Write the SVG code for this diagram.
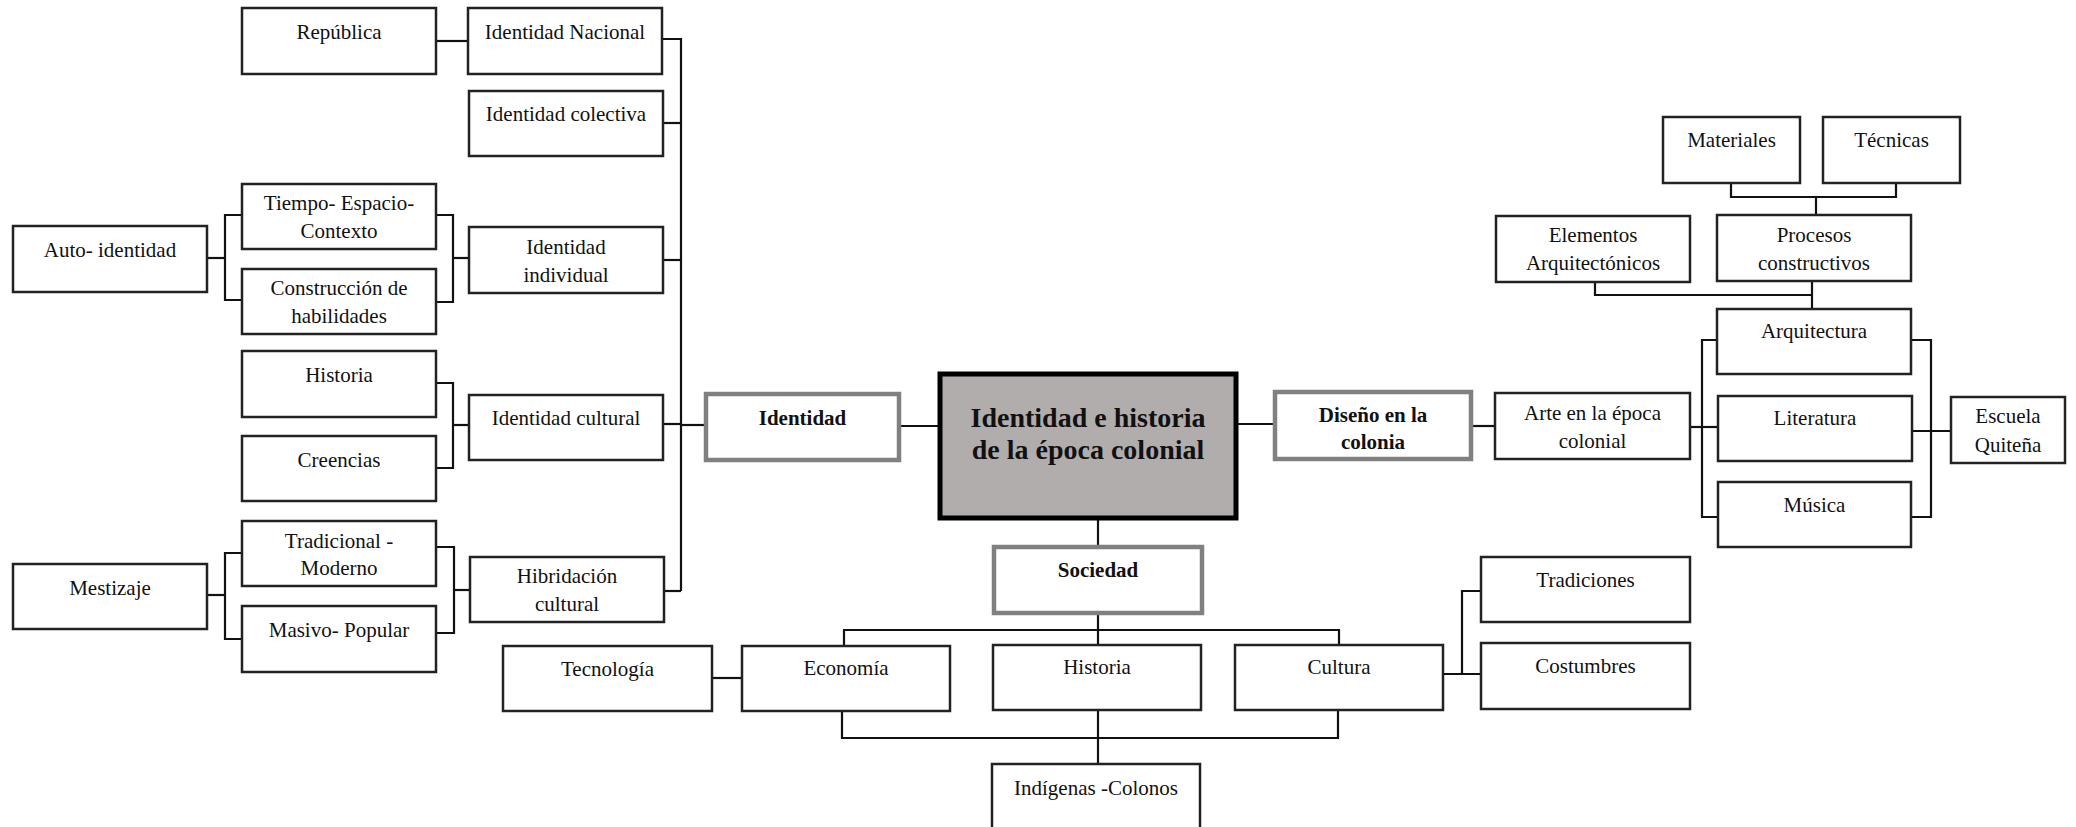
<svg xmlns="http://www.w3.org/2000/svg" width="2076" height="827" viewBox="0 0 2076 827">
  <style>
    .box { fill: #ffffff; stroke: #222222; stroke-width: 2.5; }
    .key { fill: #ffffff; stroke: #808080; stroke-width: 4.5; }
    .core { fill: #b2adad; stroke: #000000; stroke-width: 5; }
    .lbl { font-family: "Liberation Serif", "Times New Roman", serif; font-size: 21px; fill: #111111; text-anchor: middle; }
    .bold { font-weight: bold; }
    .big { font-family: "Liberation Serif", "Times New Roman", serif; font-size: 28px; font-weight: bold; fill: #111111; text-anchor: middle; }
    .wire { fill: none; stroke: #111111; stroke-width: 2.2; }
  </style>
  <rect width="2076" height="827" fill="#ffffff"/>

  <!-- connectors -->
  <g id="connectors" class="wire">
    <!-- left identity bus -->
    <path d="M436 41 H468"/>
    <path d="M662 39 H681 V591"/>
    <path d="M663 123 H681"/>
    <path d="M663 260 H681"/>
    <path d="M663 424 H681"/>
    <path d="M664 591 H681"/>
    <path d="M681 425 H706"/>
    <!-- auto-identidad bracket -->
    <path d="M207 258 H225"/>
    <path d="M242 215 H225 V300 H242"/>
    <path d="M436 215 H453 V302 H436"/>
    <path d="M453 258 H469"/>
    <!-- identidad cultural bracket -->
    <path d="M436 383 H453 V468 H436"/>
    <path d="M453 425 H469"/>
    <!-- mestizaje bracket -->
    <path d="M207 595 H225"/>
    <path d="M242 553 H225 V639 H242"/>
    <path d="M436 547 H454 V633 H436"/>
    <path d="M454 590 H470"/>
    <!-- central links -->
    <path d="M899 426 H940"/>
    <path d="M1236 424 H1275"/>
    <path d="M1471 426 H1495"/>
    <!-- sociedad tree -->
    <path d="M1098 518 V547"/>
    <path d="M1098 613 V646"/>
    <path d="M844 646 V630 H1339 V645"/>
    <path d="M842 711 V738 H1338 V710"/>
    <path d="M1098 710 V764"/>
    <path d="M712 678 H742"/>
    <path d="M1443 674 H1481"/>
    <path d="M1481 591 H1462 V674"/>
    <!-- arte tree -->
    <path d="M1690 427 H1718"/>
    <path d="M1717 340 H1702 V517 H1718"/>
    <path d="M1911 340 H1931 V517 H1911"/>
    <path d="M1912 431 H1951"/>
    <path d="M1812 281 V309"/>
    <path d="M1595 282 V295 H1812"/>
    <path d="M1731 183 V197 H1896 V183"/>
    <path d="M1816 197 V215"/>
  </g>

  <!-- left side: identity -->
  <g id="republica"><rect class="box" x="242" y="8" width="194" height="66"/><text class="lbl" x="339" y="39">República</text></g>
  <g id="identidad-nacional"><rect class="box" x="468" y="8" width="194" height="66"/><text class="lbl" x="565" y="39">Identidad Nacional</text></g>
  <g id="identidad-colectiva"><rect class="box" x="469" y="91" width="194" height="65"/><text class="lbl" x="566" y="121">Identidad colectiva</text></g>
  <g id="auto-identidad"><rect class="box" x="13" y="226" width="194" height="66"/><text class="lbl" x="110" y="257">Auto- identidad</text></g>
  <g id="tiempo-espacio"><rect class="box" x="242" y="184" width="194" height="65"/><text class="lbl" x="339" y="210">Tiempo- Espacio-</text><text class="lbl" x="339" y="238">Contexto</text></g>
  <g id="construccion"><rect class="box" x="242" y="269" width="194" height="65"/><text class="lbl" x="339" y="295">Construcción de</text><text class="lbl" x="339" y="323">habilidades</text></g>
  <g id="identidad-individual"><rect class="box" x="469" y="227" width="194" height="66"/><text class="lbl" x="566" y="254">Identidad</text><text class="lbl" x="566" y="282">individual</text></g>
  <g id="historia-cultural"><rect class="box" x="242" y="351" width="194" height="66"/><text class="lbl" x="339" y="382">Historia</text></g>
  <g id="creencias"><rect class="box" x="242" y="436" width="194" height="65"/><text class="lbl" x="339" y="467">Creencias</text></g>
  <g id="identidad-cultural"><rect class="box" x="469" y="395" width="194" height="65"/><text class="lbl" x="566" y="425">Identidad cultural</text></g>
  <g id="mestizaje"><rect class="box" x="13" y="564" width="194" height="65"/><text class="lbl" x="110" y="595">Mestizaje</text></g>
  <g id="tradicional-moderno"><rect class="box" x="242" y="521" width="194" height="65"/><text class="lbl" x="339" y="548">Tradicional -</text><text class="lbl" x="339" y="575">Moderno</text></g>
  <g id="masivo-popular"><rect class="box" x="242" y="606" width="194" height="66"/><text class="lbl" x="339" y="637">Masivo- Popular</text></g>
  <g id="hibridacion"><rect class="box" x="470" y="557" width="194" height="65"/><text class="lbl" x="567" y="583">Hibridación</text><text class="lbl" x="567" y="611">cultural</text></g>
  <g id="identidad"><rect class="key" x="706" y="394" width="193" height="66"/><text class="lbl bold" x="802.5" y="425">Identidad</text></g>

  <!-- centre -->
  <g id="tema-central"><rect class="core" x="940" y="374" width="296" height="144"/><text class="big" x="1088" y="427">Identidad e historia</text><text class="big" x="1088" y="459">de la época colonial</text></g>

  <!-- society -->
  <g id="sociedad"><rect class="key" x="994" y="547" width="208" height="66"/><text class="lbl bold" x="1098" y="577">Sociedad</text></g>
  <g id="tecnologia"><rect class="box" x="503" y="646" width="209" height="65"/><text class="lbl" x="607.5" y="676">Tecnología</text></g>
  <g id="economia"><rect class="box" x="742" y="646" width="208" height="65"/><text class="lbl" x="846" y="675">Economía</text></g>
  <g id="historia"><rect class="box" x="993" y="645" width="208" height="65"/><text class="lbl" x="1097" y="674">Historia</text></g>
  <g id="cultura"><rect class="box" x="1235" y="645" width="208" height="65"/><text class="lbl" x="1339" y="674">Cultura</text></g>
  <g id="tradiciones"><rect class="box" x="1481" y="557" width="209" height="65"/><text class="lbl" x="1585.5" y="587">Tradiciones</text></g>
  <g id="costumbres"><rect class="box" x="1481" y="643" width="209" height="66"/><text class="lbl" x="1585.5" y="673">Costumbres</text></g>
  <g id="indigenas-colonos"><rect class="box" x="992" y="764" width="208" height="72"/><text class="lbl" x="1096" y="795">Indígenas -Colonos</text></g>

  <!-- colonial design -->
  <g id="diseno-colonia"><rect class="key" x="1275" y="392" width="196" height="67"/><text class="lbl bold" x="1373" y="422">Diseño en la</text><text class="lbl bold" x="1373" y="449">colonia</text></g>
  <g id="arte-colonial"><rect class="box" x="1495" y="393" width="195" height="66"/><text class="lbl" x="1592.5" y="420">Arte en la época</text><text class="lbl" x="1592.5" y="448">colonial</text></g>
  <g id="arquitectura"><rect class="box" x="1717" y="309" width="194" height="65"/><text class="lbl" x="1814" y="338">Arquitectura</text></g>
  <g id="literatura"><rect class="box" x="1718" y="396" width="194" height="65"/><text class="lbl" x="1815" y="425">Literatura</text></g>
  <g id="musica"><rect class="box" x="1718" y="482" width="193" height="65"/><text class="lbl" x="1814.5" y="512">Música</text></g>
  <g id="escuela-quitena"><rect class="box" x="1951" y="397" width="114" height="66"/><text class="lbl" x="2008" y="423">Escuela</text><text class="lbl" x="2008" y="452">Quiteña</text></g>
  <g id="elementos"><rect class="box" x="1496" y="216" width="194" height="66"/><text class="lbl" x="1593" y="242">Elementos</text><text class="lbl" x="1593" y="270">Arquitectónicos</text></g>
  <g id="procesos"><rect class="box" x="1717" y="215" width="194" height="66"/><text class="lbl" x="1814" y="242">Procesos</text><text class="lbl" x="1814" y="270">constructivos</text></g>
  <g id="materiales"><rect class="box" x="1663" y="117" width="137" height="66"/><text class="lbl" x="1731.5" y="147">Materiales</text></g>
  <g id="tecnicas"><rect class="box" x="1823" y="117" width="137" height="66"/><text class="lbl" x="1891.5" y="147">Técnicas</text></g>
</svg>
